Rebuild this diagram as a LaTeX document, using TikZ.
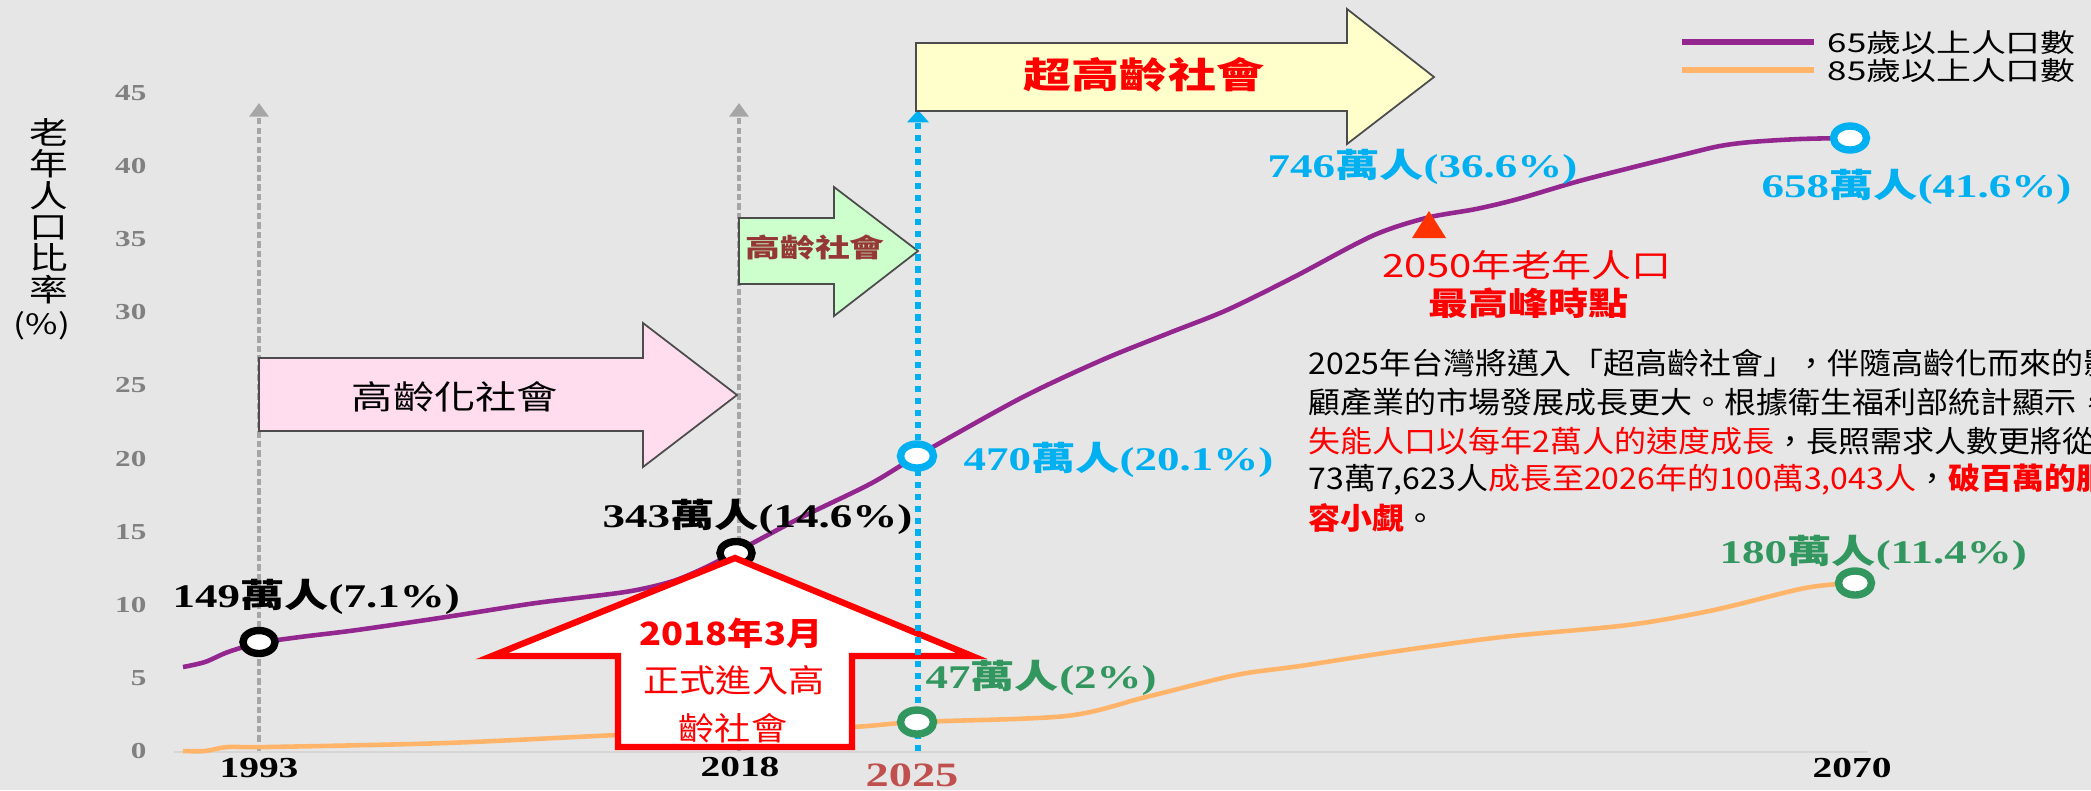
\documentclass[tikz,border=0pt]{standalone}
\usepackage{fontspec}
\setmainfont{Liberation Serif}
\newfontfamily\numf[FakeStretch=1.36]{Liberation Serif}
\newfontfamily\hei[FakeStretch=1.34]{Noto Sans CJK TC}
\newfontfamily\heimid[FakeStretch=1.25]{Noto Sans CJK TC}
\newfontfamily\heinar[FakeStretch=1.13]{Noto Sans CJK TC}
\newfontfamily\cjk[FakeStretch=1.07]{Noto Sans CJK TC}
\usetikzlibrary{arrows.meta}

\definecolor{bggray}{RGB}{230,230,230}
\definecolor{axisgray}{RGB}{214,214,214}
\definecolor{tickgray}{RGB}{128,128,128}
\definecolor{dotgray}{RGB}{166,166,166}
\definecolor{curvepurple}{RGB}{147,39,143}
\definecolor{curveorange}{RGB}{255,180,105}
\definecolor{markblue}{RGB}{0,176,240}
\definecolor{markgreen}{RGB}{50,150,95}
\definecolor{pinkfill}{RGB}{255,221,238}
\definecolor{greenfill}{RGB}{204,255,204}
\definecolor{yellowfill}{RGB}{255,255,204}
\definecolor{stagebrown}{RGB}{149,55,53}
\definecolor{yearred}{RGB}{192,80,77}
\definecolor{peakred}{RGB}{255,51,0}

\newcommand{\wanren}[2]{{\numf\bfseries #1}{\hei\bfseries 萬人}{\numf\bfseries (#2\%)}}

\begin{document}
\begin{tikzpicture}[x=0.01cm, y=-0.01cm,
  ticklab/.style={font=\numf\bfseries\fontsize{6.5}{7}\selectfont, text=tickgray, inner sep=0pt, anchor=east},
  yearlab/.style={font=\numf\bfseries\fontsize{8.25}{9}\selectfont, inner sep=0pt},
  datalab/.style={font=\fontsize{9.4}{10}\selectfont, inner sep=0pt, anchor=west},
  ring/.style={line width=2.1pt, fill=white},
  guide/.style={dotgray, line width=1.35pt, dash pattern=on 1.8pt off 0.9pt},
  stage/.style={draw=black!70, line width=0.5pt},
  note/.style={font=\cjk\fontsize{8.5}{9}\selectfont, inner sep=0pt, anchor=west},
]

\useasboundingbox (0,0) rectangle (2091,790);
\clip (0,0) rectangle (2091,790);
\fill[bggray] (0,0) rectangle (2091,790);

% axes
\draw[axisgray, line width=0.45pt] (174,752) -- (1868,752);
\foreach \v in {0,5,...,45}
  \node[ticklab] (tick\v) at (147,{751-14.62*\v}) {\v};
\node[font=\heimid\fontsize{8.8}{8.95}\selectfont, align=center, inner sep=0pt] (ytitle) at (49,211) {老\\年\\人\\口\\比\\率};
\node[font=\heimid\fontsize{8}{9}\selectfont, inner sep=0pt] (ypct) at (42,326) {(\%)};

\node[yearlab] (n1993) at (259,768) {1993};
\node[yearlab] (n2018) at (740,767) {2018};
\node[yearlab, text=yearred, font=\numf\bfseries\fontsize{9.7}{10}\selectfont] (n2025) at (912,775) {2025};
\node[yearlab] (n2070) at (1852,768) {2070};

\coordinate (b1993) at (259,751); \coordinate (t1993) at (259,103);
\coordinate (b2018) at (739,751); \coordinate (t2018) at (739,103);
\coordinate (b2025) at (918,751); \coordinate (t2025) at (918,110);

\draw[guide, -{Triangle[width=5.4pt,length=3.9pt]}] (b1993) -- (t1993);
\draw[guide, -{Triangle[width=5.4pt,length=3.9pt]}] (b2018) -- (t2018);

% stages
\draw[stage, fill=pinkfill] (259,358) -- (643,358) -- (643,323) -- (737,395) -- (643,467) -- (643,431) -- (259,431) -- cycle;
\node[font=\heimid\fontsize{9.4}{10}\selectfont, inner sep=0pt] (aging) at (455,397) {高齡化社會};

\draw[stage, fill=greenfill] (739,218) -- (834,218) -- (834,187) -- (918,251) -- (834,316) -- (834,284) -- (739,284) -- cycle;
\node[font=\hei\bfseries\fontsize{7.4}{8}\selectfont, text=stagebrown, inner sep=0pt] (aged) at (815,248) {高齡社會};

% curves
\draw[curveorange, line width=1.3pt, line join=round] plot[smooth, tension=0.5] coordinates {
  (183,751) (205,751) (228,747) (268,747) (446,743) (618,735) (736,731) (852,727) (917,722)
  (1066,716) (1146,697) (1236,675) (1300,666) (1391,652) (1502,637) (1628,625) (1714,610)
  (1805,588) (1855,583)};
\draw[curvepurple, line width=1.3pt, line join=round] plot[smooth, tension=0.5] coordinates {
  (183,667) (205,662) (228,652) (259,643) (300,637) (357,630) (446,617) (536,603) (625,592)
  (670,582) (700,570) (736,552) (800,518) (870,484) (917,456) (1021,398) (1102,360) (1169,333)
  (1227,310) (1294,277) (1372,236) (1426,218) (1476,209) (1518,199) (1583,180) (1686,154)
  (1720,146) (1751,142) (1800,139) (1850,138)};

\draw[ring, draw=black] (259,642) ellipse [x radius=0.16cm, y radius=0.115cm];
\draw[ring, draw=black] (736,553) ellipse [x radius=0.16cm, y radius=0.115cm];

% 2018
\draw[red, line width=1.8pt, fill=white, line join=miter] (735,558) -- (972,656) -- (852,656) -- (852,747) -- (618,747) -- (618,656) -- (492,656) -- cycle;
\node[font=\heinar\bfseries\fontsize{9.1}{10}\selectfont, text=red, inner sep=0pt] (intro1) at (731,633) {2018年3月};
\node[font=\heinar\fontsize{9.1}{10}\selectfont, text=red, inner sep=0pt] (intro2) at (734,680) {正式進入高};
\node[font=\heinar\fontsize{9.1}{10}\selectfont, text=red, inner sep=0pt] (intro3) at (733,728) {齡社會};

\draw[markblue, line width=1.8pt, dash pattern=on 1.8pt off 1.6pt, -{Triangle[width=6pt,length=3.5pt]}] (b2025) -- (t2025);

\draw[stage, fill=yellowfill] (916,43) -- (1347,43) -- (1347,9) -- (1434,77) -- (1347,144) -- (1347,111) -- (916,111) -- cycle;
\node[font=\hei\bfseries\fontsize{10.2}{11}\selectfont, text=red, inner sep=0pt] (superaged) at (1144,75) {超高齡社會};

\draw[ring, draw=markblue] (917,456) ellipse [x radius=0.165cm, y radius=0.12cm];
\draw[ring, draw=markblue] (1850,138) ellipse [x radius=0.165cm, y radius=0.12cm];
\draw[ring, draw=markgreen] (917,722) ellipse [x radius=0.165cm, y radius=0.12cm];
\draw[ring, draw=markgreen] (1855,583) ellipse [x radius=0.165cm, y radius=0.12cm];

% labels
\node[datalab] (lab1993) at (172,597) {\wanren{149}{7.1}};
\node[datalab] (lab2018) at (602,517) {\wanren{343}{14.6}};
\node[datalab, text=markblue] (lab2025) at (963,460) {\wanren{470}{20.1}};
\node[datalab, text=markgreen] (old2025) at (925,678) {\wanren{47}{2}};
\node[datalab, text=markblue] (lab2050) at (1267,167) {\wanren{746}{36.6}};
\node[datalab, text=markblue] (lab2070) at (1761,187) {\wanren{658}{41.6}};
\node[datalab, text=markgreen] (old2070) at (1719,553) {\wanren{180}{11.4}};

\fill[peakred] (1429,211) -- (1446,238) -- (1412,238) -- cycle;
\node[font=\heimid\fontsize{9.1}{10}\selectfont, text=red, inner sep=0pt] (peak1) at (1527,265) {2050年老年人口};
\node[font=\heimid\bfseries\fontsize{9.1}{10}\selectfont, text=red, inner sep=0pt] (peak2) at (1528,303) {最高峰時點};

% legend
\coordinate (lg65a) at (1682,42); \coordinate (lg65b) at (1814,42);
\coordinate (lg85a) at (1682,70); \coordinate (lg85b) at (1814,70);
\draw[curvepurple, line width=1.7pt] (lg65a) -- (lg65b);
\draw[curveorange, line width=1.7pt] (lg85a) -- (lg85b);
\node[font=\hei\fontsize{7.4}{8}\selectfont, anchor=west, inner sep=0pt] (leg65) at (1827,43) {65歲以上人口數};
\node[font=\hei\fontsize{7.4}{8}\selectfont, anchor=west, inner sep=0pt] (leg85) at (1827,71) {85歲以上人口數};

% text
\node[note] (par1) at (1308,363) {2025年台灣將邁入「超高齡社會」，伴隨高齡化而來的影};
\node[note] (par2) at (1308,402) {顧產業的市場發展成長更大。根據衛生福利部統計顯示，};
\node[note] (par3) at (1308,441) {{\color{red}失能人口以每年2萬人的速度成長}，長照需求人數更將從};
\node[note] (par4) at (1308,480) {73萬7,623人{\color{red}成長至2026年的100萬3,043人}，{\color{red}\bfseries 破百萬的服}};
\node[note] (par5) at (1308,518) {{\color{red}\bfseries 容小覷}。};

\end{tikzpicture}
\end{document}
